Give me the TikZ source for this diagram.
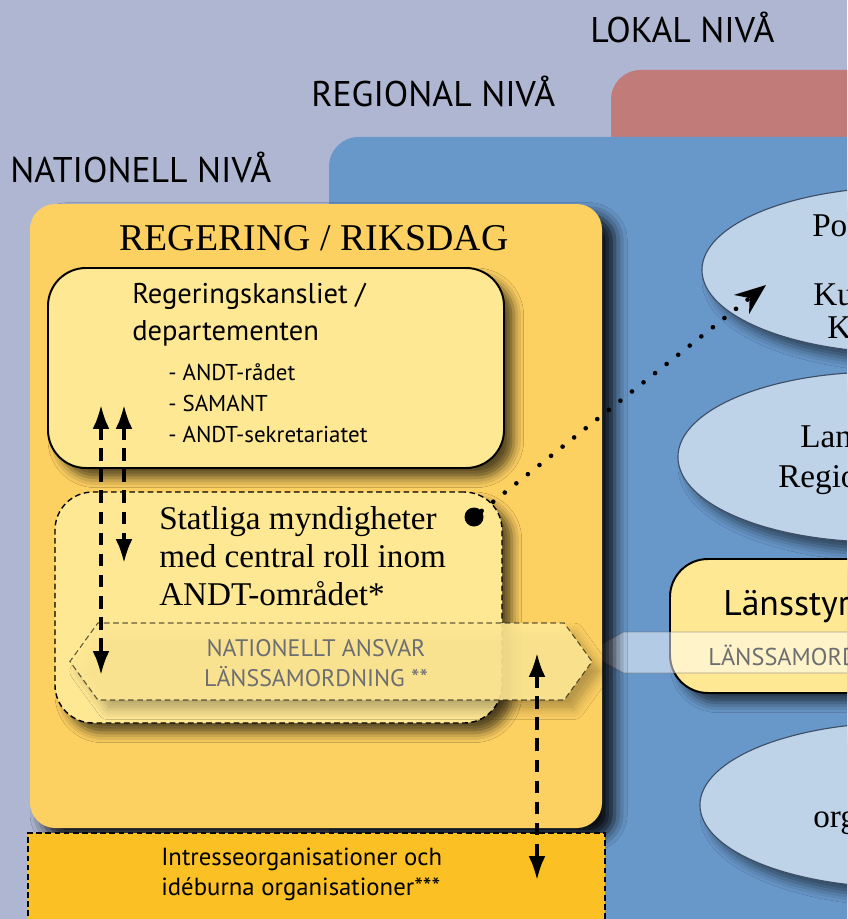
\documentclass[tikz,border=0pt]{standalone}
\usepackage{fontspec}
\setmainfont{Liberation Serif}
\newfontfamily\myriad{PT Sans}
\usetikzlibrary{positioning,fit,shapes.geometric,shapes.symbols,arrows.meta,shadows.blur}

\definecolor{lavbg}{HTML}{AFB6D1}
\definecolor{lokalred}{HTML}{C17B79}
\definecolor{regblue}{HTML}{6897C9}
\definecolor{natyellow}{HTML}{FDD062}
\definecolor{paleyellow}{HTML}{FFE894}
\definecolor{orgorange}{HTML}{FBC124}
\definecolor{ellfill}{HTML}{BED2E8}
\definecolor{ellline}{HTML}{3D4F66}
\definecolor{grytext}{HTML}{6D6E71}

\tikzset{
  lvl/.style={font=\myriad\fontsize{25.4}{30}\selectfont, anchor=base west, inner sep=0},
  area/.style={fit={#1}, inner sep=0, outer sep=0, rounded corners=21pt},
  shade/.style={blur shadow={shadow xshift=7pt, shadow yshift=-7pt,
      shadow blur radius=7pt, shadow opacity=#1}},
  shade/.default=65,
  box/.style={fit={#1}, inner sep=0, outer sep=0, rounded corners=27pt,
      draw=black, line width=1.4pt, fill=paleyellow, shade},
  aktor/.style={ellipse, draw=ellline, line width=0.8pt, fill=ellfill,
      inner sep=0, shade=55},
  serif/.style={font=\fontsize{23.6}{26.7}\selectfont, anchor=base west,
      inner sep=0, align=left},
  sans/.style={anchor=base west, inner sep=0, align=left},
  streck/.style={line width=1pt, dash pattern=on 4pt off 2.5pt},
  dasharrow/.style={line width=2.5pt, dash pattern=on 9pt off 6pt,
      arrows={Latex[length=17pt, width=12pt]-Latex[length=17pt, width=12pt]}},
  dotarrow/.style={line width=3.3pt, line cap=round,
      dash pattern=on 0pt off 10.5pt, arrows={-Stealth[length=22pt, width=17pt]}},
}

\begin{document}
\begin{tikzpicture}[x=0.025cm, y=-0.025cm]
  \useasboundingbox (0,0) rectangle (847,919);
  \clip (0,0) rectangle (847,919);
  \fill[lavbg] (0,0) rectangle (847,919);

  % nivaer
  \node[area={(611,70) (1000,1000)}, fill=lokalred] (lokal) {};
  \node[area={(329,137) (1000,1000)}, fill=regblue] (regional) {};
  \node[lvl] (lokaltxt) at (590,43) {LOKAL NIVÅ};
  \node[lvl] (regtxt) at (311,107) {REGIONAL NIVÅ};
  \node[lvl] (nattxt) at (10,182) {NATIONELL NIVÅ};

  % regional/lokal aktorer
  \node[aktor, minimum width=10.15cm, minimum height=4.15cm] (ell1) at (905,270) {};
  \node[serif] (ell1a) at (812,236) {Polisen};
  \node[serif] (ell1b) at (813,305) {Kustbevakningen};
  \node[serif] (ell1c) at (827,338) {Kriminalvården};
  \node[aktor, minimum width=10.1cm, minimum height=4.25cm] (ell2) at (880,457) {};
  \node[serif] (ell2a) at (800,447) {Landsting /};
  \node[serif] (ell2b) at (778,487) {Regioner};
  \node[aktor, minimum width=10.15cm, minimum height=4.125cm] (ell3) at (903,805) {};
  \node[serif] (ell3a) at (813,827) {organisationer};

  \node[box={(670,559) (1000,693)}] (lansstyr) {};
  \node[sans, font=\myriad\fontsize{25.4}{30}\selectfont] (lanstxt) at (723,615) {Länsstyrelsen};
  \node[signal, signal to=west, signal pointer angle=58, minimum width=7.5cm,
        minimum height=1.025cm, inner sep=0, fill=white, fill opacity=0.5,
        draw=grytext, line width=0.5pt, draw opacity=0.6] (lansband) at (755,652.5) {};
  \node[sans, font=\myriad\fontsize{17.3}{21}\selectfont, text=grytext]
        (lansbandtxt) at (708,665) {LÄNSSAMORDNING};

  % nationell niva
  \node[area={(30,204) (602,828)}, rounded corners=18pt, fill=natyellow,
        blur shadow={shadow xshift=9pt, shadow yshift=-8pt,
        shadow blur radius=9pt, shadow opacity=90}] (regering) {};
  \node[font=\fontsize{26.9}{30}\selectfont, anchor=base, inner sep=0]
        (regeringtxt) at (314,250) {REGERING / RIKSDAG};
  \node[fit={(28,833) (605,1000)}, inner sep=0, fill=orgorange, draw=black,
        streck] (intresse) {};
  \node[sans, font=\myriad\fontsize{17.6}{21.3}\selectfont] (intressetxt) at (161,895)
        {Intresseorganisationer och\\idéburna organisationer***};

  \node[box={(48,268) (504,468)}] (kansli) {};
  \node[sans, font=\myriad\fontsize{20.3}{26.3}\selectfont] (kanslitxt) at (132,340)
        {Regeringskansliet /\\departementen};
  \node[sans, font=\myriad\fontsize{16.3}{22}\selectfont] (listtxt) at (168,442)
        {- ANDT-rådet\\- SAMANT\\- ANDT-sekretariatet};

  \node[box={(55,492) (502,723)}, streck] (statliga) {};
  \node[serif] (statligatxt) at (159,605)
        {Statliga myndigheter\\med central roll inom\\ANDT-området*};

  \node[signal, signal to=west and east, signal pointer angle=108,
        minimum width=13.05cm, minimum height=1.925cm, inner sep=0,
        fill=paleyellow, fill opacity=0.9, draw=black, draw opacity=0.6,
        streck, line width=0.8pt, shade=30] (ansvar) at (331,661.5) {};
  \node[font=\myriad\fontsize{17}{21.3}\selectfont, text=grytext, anchor=base,
        inner sep=0, align=center] (ansvartxt) at (316,686)
        {NATIONELLT ANSVAR\\LÄNSSAMORDNING **};

  % kopplingar
  \node[circle, fill=black, inner sep=0, minimum size=0.475cm] (punkt) at (474,517) {};
  \coordinate (k1top) at (101,405);
  \coordinate (k1bot) at (101,675);
  \coordinate (k2top) at (124,405);
  \coordinate (k2bot) at (124,563);
  \coordinate (a3top) at (537,653);
  \coordinate (a3bot) at (537,880);
  \coordinate (ell1pil) at (766,285);

  \draw[dasharrow] (k1top) -- (k1bot);
  \draw[dasharrow] (k2top) -- (k2bot);
  \draw[dasharrow] (a3top) -- (a3bot);
  \draw[dotarrow] (punkt) -- (ell1pil);
\end{tikzpicture}
\end{document}
